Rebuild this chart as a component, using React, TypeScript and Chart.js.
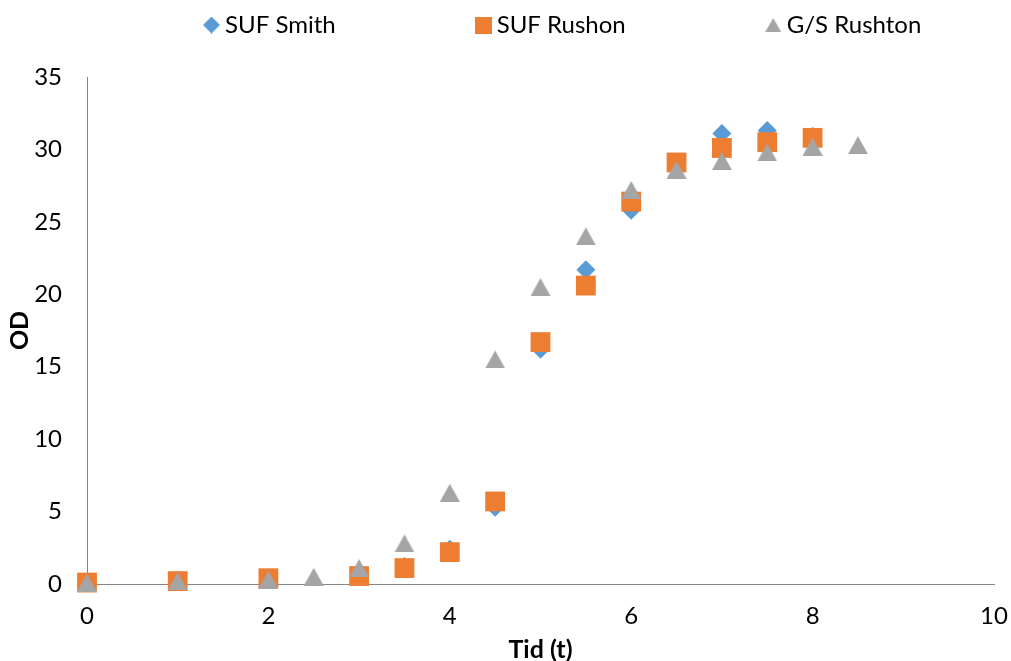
import { useEffect, useRef } from "react";
import { Chart, registerables } from "chart.js";
Chart.register(...registerables);

const timeSmith = [0, 1, 2, 3, 3.5, 4, 4.5, 5, 5.5, 6, 6.5, 7, 7.5, 8];
const odSmith = [0.1, 0.2, 0.3, 0.6, 1.2, 2.4, 5.3, 16.2, 21.7, 25.8, 29.0, 31.1, 31.3, 30.9];
const timeRushon = [0, 1, 2, 3, 3.5, 4, 4.5, 5, 5.5, 6, 6.5, 7, 7.5, 8];
const odRushon = [0.1, 0.2, 0.4, 0.55, 1.1, 2.2, 5.7, 16.7, 20.6, 26.4, 29.1, 30.1, 30.5, 30.8];
const timeGS = [0, 1, 2, 2.5, 3, 3.5, 4, 4.5, 5, 5.5, 6, 6.5, 7, 7.5, 8, 8.5];
const odGS = [0.1, 0.2, 0.3, 0.5, 1.1, 2.8, 6.3, 15.5, 20.5, 24.0, 27.2, 28.6, 29.2, 29.8, 30.2, 30.3];
const seriesNames = ["SUF Smith", "SUF Rushon", "G/S Rushton"];
const seriesColors = ["#5B9BD5", "#ED7D31", "#A5A5A5"];
const xTitle = "Tid (t)";
const yTitle = "OD";

const toPts = (xs: number[], ys: number[]) => xs.map((x, i) => ({ x, y: ys[i] }));

function markerCanvas(shape: string, color: string, w: number, h: number) {
  const c = document.createElement("canvas");
  c.width = w;
  c.height = h;
  const g = c.getContext("2d")!;
  g.fillStyle = color;
  g.beginPath();
  if (shape === "diamond") {
    g.moveTo(w / 2, 0);
    g.lineTo(w, h / 2);
    g.lineTo(w / 2, h);
    g.lineTo(0, h / 2);
  } else if (shape === "square") {
    g.rect(0, 0, w, h);
  } else {
    g.moveTo(w / 2, 0);
    g.lineTo(w, h);
    g.lineTo(0, h);
  }
  g.closePath();
  g.fill();
  return c;
}

const LEGEND_FIRST_X = 210;
const LEGEND_CENTER_Y = 25;
const LEGEND_HEIGHT = 77;
const FONT_SIZE = 24;

export default function App() {
  const ref = useRef<HTMLCanvasElement | null>(null);
  useEffect(() => {
    document.body.style.margin = "0";
    const font = "Lato, 'Open Sans', sans-serif";
    const legendMarkers = [
      markerCanvas("diamond", seriesColors[0], 17, 17),
      markerCanvas("square", seriesColors[1], 17, 17),
      markerCanvas("triangle", seriesColors[2], 16, 14),
    ];
    const triangleMark = markerCanvas("triangle", seriesColors[2], 20, 18);
    const legendTweak = {
      id: "legendTweak",
      afterInit(chart: any) {
        const lg = chart.legend;
        const origFit = lg.fit;
        lg.fit = function () {
          const mw = this.maxWidth;
          this.maxWidth = 100000;
          origFit.call(this);
          this.maxWidth = mw;
          this.width = mw;
          this.height = LEGEND_HEIGHT;
        };
      },
      afterLayout(chart: any) {
        const lg = chart.legend;
        const p = lg.options.labels.padding;
        lg.top = LEGEND_CENTER_Y - p - FONT_SIZE / 2;
        lg.bottom = LEGEND_HEIGHT;
        lg.right = 3000;
        lg.left = 2 * LEGEND_FIRST_X - p + lg.lineWidths[0] - 3000;
      },
    };
    const chart = new Chart(ref.current!, {
      type: "scatter",
      data: {
        datasets: [
          {
            label: seriesNames[0],
            data: toPts(timeSmith, odSmith),
            pointStyle: "rectRot",
            pointRadius: 9.5,
            pointHoverRadius: 9.5,
            backgroundColor: seriesColors[0],
            borderColor: seriesColors[0],
            borderWidth: 0,
            clip: false,
            order: 3,
          },
          {
            label: seriesNames[1],
            data: toPts(timeRushon, odRushon),
            pointStyle: "rect",
            pointRadius: 14,
            pointHoverRadius: 14,
            backgroundColor: seriesColors[1],
            borderColor: seriesColors[1],
            borderWidth: 0,
            clip: false,
            order: 2,
          },
          {
            label: seriesNames[2],
            data: toPts(timeGS, odGS),
            pointStyle: triangleMark,
            pointRadius: 12,
            pointHoverRadius: 12,
            backgroundColor: seriesColors[2],
            borderColor: seriesColors[2],
            borderWidth: 0,
            clip: false,
            order: 1,
          },
        ],
      } as any,
      options: {
        animation: false,
        responsive: true,
        maintainAspectRatio: false,
        layout: { padding: { left: 0, right: 17, top: 0, bottom: 0 } },
        plugins: {
          tooltip: { enabled: false },
          legend: {
            position: "top",
            labels: {
              usePointStyle: true,
              boxWidth: 3,
              boxHeight: 13,
              padding: 146,
              color: "#000",
              font: { family: font, size: FONT_SIZE },
              generateLabels: (c: any) => {
                const items = (Chart.defaults.plugins.legend.labels as any).generateLabels(c);
                return items.map((it: any) => ({ ...it, pointStyle: legendMarkers[it.datasetIndex] }));
              },
              sort: (a: any, b: any) => a.datasetIndex - b.datasetIndex,
            },
          },
        },
        scales: {
          x: {
            type: "linear",
            min: 0,
            max: 10,
            ticks: { stepSize: 2, padding: 18, color: "#000", font: { family: font, size: FONT_SIZE } },
            grid: { display: false, drawTicks: false },
            border: { display: true, color: "#868686", width: 1 },
            title: {
              display: true,
              text: xTitle,
              color: "#000",
              font: { family: font, size: 25, weight: "bold", lineHeight: 0.9 },
              padding: { top: 0, bottom: 0 },
            },
            afterFit: (s: any) => {
              s.height = 77;
              s.paddingLeft = 0;
              s.paddingRight = 0;
            },
          },
          y: {
            type: "linear",
            min: 0,
            max: 35,
            ticks: { stepSize: 5, padding: 25, color: "#000", font: { family: font, size: FONT_SIZE } },
            grid: { display: false, drawTicks: false },
            border: { display: true, color: "#868686", width: 1 },
            title: {
              display: true,
              text: yTitle,
              color: "#000",
              font: { family: font, size: 25, weight: "bold" },
              padding: { top: 5, bottom: 0 },
            },
            afterFit: (s: any) => {
              s.width = 87;
            },
          },
        },
      } as any,
      plugins: [legendTweak],
    });
    return () => chart.destroy();
  }, []);
  return (
    <div style={{ width: 1011, height: 661, position: "relative" }}>
      <canvas ref={ref} />
    </div>
  );
}
